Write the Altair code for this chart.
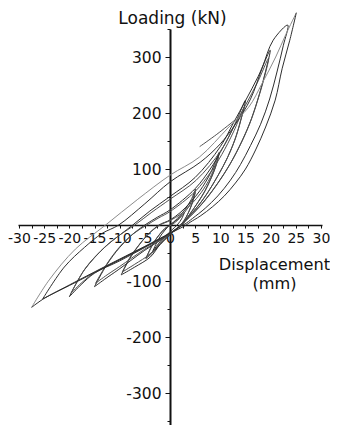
import altair as alt
import pandas as pd

# ---- hysteresis loops (displacement mm, load kN) ----
c1_d = [-3.5, -2.2, -1.0, 0.0, 1.5, 2.8, 2.3, 1.6, 0.0, -2.0, -3.5]
c1_l = [-48, -24, -9, 0, 10, 22, 11, 2, -12, -30, -48]

c2_d = [-4.8, -3.5, -2.2, -1.0, 0.0, 1.5, 3.0, 4.2, 5.1, 4.6, 3.8, 2.8, 2.0, 0.0, -2.0, -3.5, -4.8]
c2_l = [-60, -35, -18, -6, 0, 12, 28, 45, 64, 45, 25, 8, 0, -17, -35, -50, -60]

c2b_d = [-4.6, -3.3, -2.0, -0.8, 0.3, 1.8, 3.2, 4.3, 5.0, 4.5, 3.7, 2.8, 2.1, 0.0, -2.0, -3.4, -4.6]
c2b_l = [-56, -33, -16, -5, 0, 11, 26, 42, 58, 41, 23, 8, 0, -16, -33, -47, -56]

c3_d = [-9.7, -8.0, -6.5, -4.5, -2.2, 0.0, 2.0, 4.0, 6.0, 8.0, 9.8, 9.2, 8.2, 7.0, 5.5, 4.0, 2.8, 2.2, 0.0, -2.0, -3.9, -7.0, -9.7]
c3_l = [-89, -60, -40, -18, 0, 9, 22, 40, 62, 92, 130, 108, 85, 62, 40, 20, 6, 0, -17, -35, -57, -75, -89]

c3b_d = [-9.5, -7.9, -6.3, -4.3, -2.0, 0.0, 2.2, 4.2, 6.2, 8.0, 9.6, 9.0, 8.0, 6.8, 5.3, 3.8, 2.7, 2.1, 0.0, -2.0, -4.0, -7.0, -9.5]
c3b_l = [-84, -57, -37, -16, 0, 8, 20, 37, 58, 85, 122, 102, 80, 58, 37, 18, 5, 0, -16, -33, -52, -70, -84]

c4_d = [-15.0, -12.5, -10.0, -7.5, -5.0, -2.5, 0.0, 5.0, 8.0, 10.0, 12.5, 15.0, 14.3, 13.2, 11.5, 9.5, 7.5, 5.5, 3.5, 2.3, 0.0, -5.0, -10.3, -12.7, -15.0]
c4_l = [-110, -70, -40, -17, 0, 14, 27, 65, 100, 130, 172, 223, 195, 160, 122, 88, 58, 33, 13, 0, -16, -45, -80, -95, -110]

c4b_d = [-14.8, -12.3, -9.8, -7.2, -4.6, -2.2, 0.0, 5.0, 8.2, 10.3, 12.6, 14.8, 14.0, 12.9, 11.2, 9.2, 7.2, 5.2, 3.3, 2.3, 0.0, -5.0, -10.0, -12.5, -14.8]
c4b_l = [-104, -66, -37, -15, 0, 13, 24, 60, 96, 126, 166, 212, 186, 152, 116, 83, 54, 30, 11, 0, -16, -43, -74, -89, -104]

c5_d = [-20.0, -17.0, -13.0, -10.0, -7.4, -4.0, 0.0, 5.0, 10.0, 12.7, 15.0, 17.5, 19.9, 19.0, 17.8, 16.2, 14.3, 12.0, 9.5, 7.0, 4.5, 2.8, 2.3, 0.0, -5.0, -10.0, -15.0, -17.5, -20.0]
c5_l = [-128, -80, -40, -18, 0, 25, 51, 85, 140, 184, 222, 265, 312, 275, 235, 190, 150, 110, 75, 45, 20, 5, 0, -15, -40, -64, -86, -105, -128]

c5b_d = [-19.7, -16.8, -12.8, -9.7, -7.0, -3.6, 0.0, 5.2, 10.2, 12.8, 15.0, 17.4, 19.6, 18.7, 17.4, 15.8, 13.8, 11.5, 9.0, 6.6, 4.2, 2.7, 2.2, 0.0, -5.0, -10.0, -14.8, -17.3, -19.7]
c5b_l = [-122, -77, -38, -16, 0, 23, 46, 80, 134, 178, 214, 255, 298, 262, 222, 180, 140, 102, 68, 40, 17, 4, 0, -15, -39, -62, -84, -101, -122]

c6_d = [-25.3, -21.0, -17.0, -13.5, -10.2, -5.0, 0.0, 6.0, 10.0, 13.0, 16.0, 18.3, 20.5, 23.4,
        22.5, 21.3, 19.8, 18.0, 16.0, 14.0, 12.0, 9.5, 7.0, 4.5, 3.0, 2.5, 0.0, -5.0, -12.9, -20.0, -25.3]
c6_l = [-132, -75, -40, -15, 0, 38, 77, 112, 145, 180, 225, 280, 330, 357,
        320, 275, 225, 180, 142, 108, 80, 52, 30, 12, 2, 0, -14, -38, -74, -107, -132]

# outer cycle: rising branch (light) and falling branch (dark)
c7u_d = [-27.5, -24.0, -18.8, -12.8, -6.4, 0.0, 5.8, 11.7, 15.6, 18.3, 21.0, 23.0, 25.1]
c7u_l = [-147, -98, -43, 0, 46, 89, 121, 175, 210, 253, 300, 340, 379]
c7d_d = [25.1, 23.8, 22.3, 20.9, 19.0, 17.0, 15.0, 13.0, 10.8, 8.5, 6.0, 4.0, 3.2, 0.0, -5.0, -10.0, -15.0, -20.0, -25.0, -27.5]
c7d_l = [379, 330, 280, 223, 175, 134, 100, 75, 52, 33, 16, 5, 0, -15, -39, -62, -85, -108, -131, -147]

s_d = [5.9, 9.3, 12.7]
s_l = [140, 162, 186]

x_ticks = [-30 + 2.5 * i for i in range(25)]
y_ticks = [-350 + 50 * i for i in range(15)]

loops = [
    ("c1", "main", c1_d, c1_l), ("c2", "main", c2_d, c2_l), ("c2b", "rep", c2b_d, c2b_l),
    ("c3", "main", c3_d, c3_l), ("c3b", "rep", c3b_d, c3b_l),
    ("c4", "main", c4_d, c4_l), ("c4b", "rep", c4b_d, c4b_l),
    ("c5", "main", c5_d, c5_l), ("c5b", "rep", c5b_d, c5b_l),
    ("c6", "main", c6_d, c6_l), ("c7u", "outer", c7u_d, c7u_l), ("c7d", "main", c7d_d, c7d_l),
    ("s", "rep", s_d, s_l),
]
rows = []
for name, grp, ds, ls in loops:
    for i, (d, l) in enumerate(zip(ds, ls)):
        rows.append({"loop": name, "grp": grp, "i": i, "disp": d, "load": l})
df = pd.DataFrame(rows)

W, H = 304, 396
xdom = [-30.2, 30.2]
ydom = [-357, 350]
x0 = (0 - xdom[0]) / (xdom[1] - xdom[0]) * W
y0 = (ydom[1] - 0) / (ydom[1] - ydom[0]) * H

FONT = "DejaVu Sans"

xaxis = alt.Axis(
    values=x_ticks, orient="bottom", offset=y0 - H,
    labelExpr="datum.value % 5 === 0 ? '' + datum.value : ''",
    labelFont=FONT, labelFontSize=14, labelColor="#111", labelPadding=3,
    labelOverlap=False, labelFlush=False, labelBound=False,
    tickSize=3, tickColor="#111", tickWidth=1,
    domainColor="#111", domainWidth=1.6, grid=False,
    title=["Displacement", "(mm)"], titleFont=FONT, titleFontSize=16.2,
    titleFontWeight="normal", titleColor="#111", titleAngle=0,
    titleAlign="center", titleBaseline="alphabetic",
    titleX=256, titleY=44, titleLineHeight=19,
)
yaxis = alt.Axis(
    values=y_ticks, orient="left", offset=-x0,
    labelExpr="datum.value % 100 === 0 && datum.value !== 0 ? '' + datum.value : ''",
    labelFont=FONT, labelFontSize=15.5, labelColor="#111", labelPadding=4,
    labelOverlap=False, labelFlush=False, labelBound=False,
    tickSize={"condition": {"test": "datum.value % 100 === 0", "value": 5}, "value": 3},
    tickColor="#111", tickWidth=1,
    domainColor="#111", domainWidth=2, grid=False,
    title="Loading (kN)", titleFont=FONT, titleFontSize=17,
    titleFontWeight="normal", titleColor="#111", titleAngle=0,
    titleAlign="center", titleBaseline="alphabetic",
    titleX=2, titleY=-6,
)

chart = alt.Chart(df).mark_line(strokeWidth=1, interpolate="catmull-rom", clip=False).encode(
    x=alt.X("disp:Q", scale=alt.Scale(domain=xdom, nice=False, zero=False), axis=xaxis),
    y=alt.Y("load:Q", scale=alt.Scale(domain=ydom, nice=False, zero=False), axis=yaxis),
    detail="loop:N",
    order="i:Q",
    color=alt.Color("grp:N", scale=alt.Scale(domain=["main", "rep", "outer"],
                                             range=["#2e2e2e", "#505050", "#8c8c8c"]), legend=None),
).properties(
    width=W, height=H,
    background="white",
    autosize=alt.AutoSizeParams(type="none"),
    padding={"left": 10, "top": 21, "right": 8, "bottom": 0},
).configure_view(stroke=None, strokeWidth=0)

chart.save("out.html", embed_options={"renderer": "svg", "actions": False})
